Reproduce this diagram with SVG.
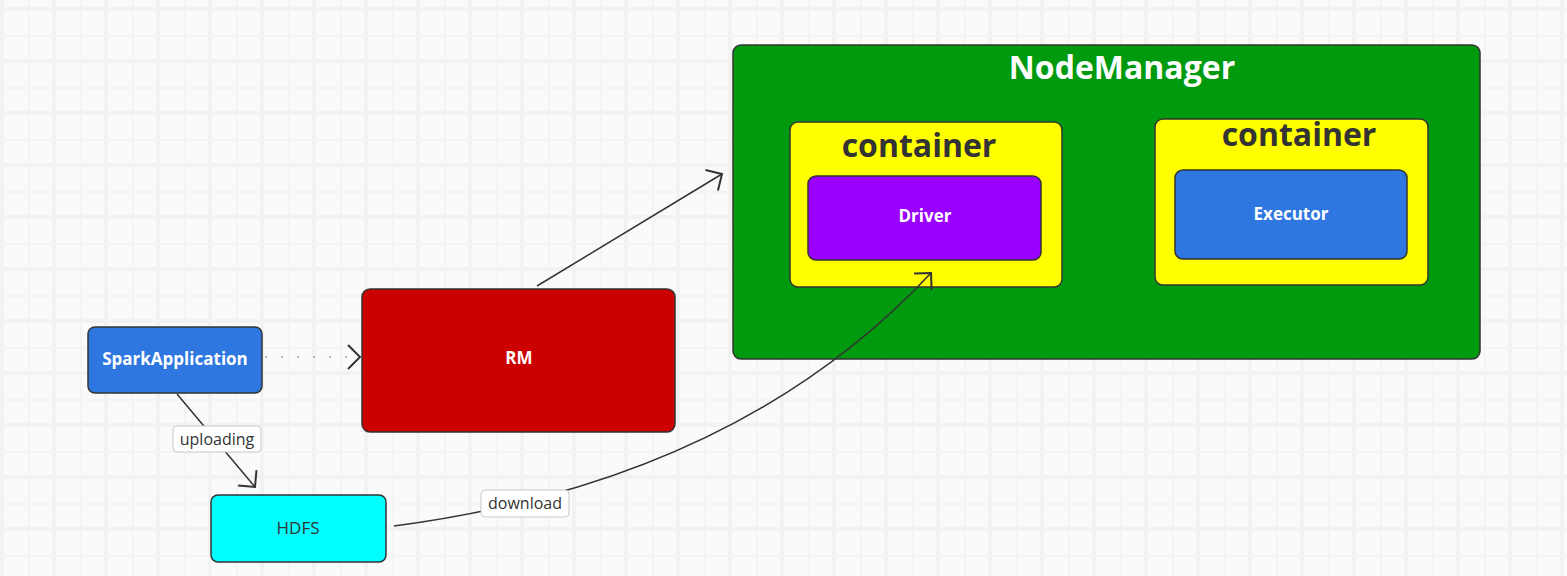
<svg xmlns="http://www.w3.org/2000/svg" width="1567" height="576" viewBox="0 0 1567 576">
<style>
.node{stroke:#333;stroke-width:1.5}
.t{font-family:"Open Sans","Noto Sans",sans-serif;text-anchor:middle}
.wb{fill:#fff;font-weight:bold;font-size:17px}
.big{font-weight:bold;font-size:32px}
.conn{fill:none;stroke:#333;stroke-width:1.5}
.lbl{fill:#fff;stroke:#c8c8c8;stroke-width:1}
.lt{fill:#333;font-size:16px}
</style>
<defs>
<pattern id="grid" patternUnits="userSpaceOnUse" x="0" y="7" width="52" height="52">
<rect width="52" height="52" fill="#fafafa"/>
<rect x="0" y="0" width="4" height="52" fill="#f2f2f2"/>
<rect x="0" y="0" width="52" height="4" fill="#f2f2f2"/>
<rect x="28" y="0" width="2" height="52" fill="#f4f4f4"/>
<rect x="0" y="28" width="52" height="2" fill="#f4f4f4"/>
</pattern>
<marker id="arr" markerUnits="userSpaceOnUse" markerWidth="16" markerHeight="26" refX="12" refY="12" orient="auto" overflow="visible">
<path d="M0,0 L12,12 L0,24" fill="none" stroke="#333" stroke-width="2"/>
</marker>
</defs>
<rect width="1567" height="576" fill="url(#grid)"/>

<g id="node-nodemanager">
<rect class="node" x="733" y="45" width="747" height="314" rx="8" fill="#009a0e"/>
<text class="t big" x="1122" y="79" fill="#fff">NodeManager</text>
</g>
<g id="node-container1">
<rect class="node" x="790" y="122" width="272" height="165" rx="8" fill="#ffff00"/>
<text class="t big" x="919" y="157" fill="#333">container</text>
</g>
<g id="node-driver">
<rect class="node" x="808" y="176" width="233" height="84" rx="8" fill="#9900ff"/>
<text class="t wb" x="925" y="222">Driver</text>
</g>
<g id="node-container2">
<rect class="node" x="1155" y="119" width="273" height="166" rx="8" fill="#ffff00"/>
<text class="t big" x="1299" y="146" fill="#333">container</text>
</g>
<g id="node-executor">
<rect class="node" x="1175" y="170" width="232" height="89" rx="8" fill="#2e77e1"/>
<text class="t wb" x="1291" y="220">Executor</text>
</g>
<g id="node-sparkapp">
<rect class="node" x="88" y="327" width="174" height="66" rx="7" fill="#2e77e1"/>
<text class="t wb" x="175" y="365">SparkApplication</text>
</g>
<g id="node-rm">
<rect class="node" x="362" y="289" width="313" height="143" rx="8" fill="#cc0000"/>
<text class="t wb" x="519" y="364">RM</text>
</g>
<g id="node-hdfs">
<rect class="node" x="211" y="495" width="175" height="67" rx="7" fill="#00ffff"/>
<text class="t" x="298" y="534" fill="#333" font-size="17">HDFS</text>
</g>

<g id="connectors">
<line x1="265" y1="357" x2="360" y2="357" fill="none" stroke="#bbb" stroke-width="2" stroke-dasharray="2 14" />
<path d="M348,345 L360,357 L348,369" fill="none" stroke="#333" stroke-width="2"/>
<line class="conn" x1="177" y1="394" x2="255" y2="487" marker-end="url(#arr)"/>
<line class="conn" x1="537" y1="286" x2="722" y2="174" marker-end="url(#arr)"/>
<path class="conn" d="M394,526 Q737,481 931,273" marker-end="url(#arr)"/>
<rect class="lbl" x="173" y="426" width="88" height="26" rx="4"/>
<text class="t lt" x="217" y="445">uploading</text>
<rect class="lbl" x="481" y="490" width="88" height="27" rx="4"/>
<text class="t lt" x="525" y="509">download</text>
</g>
</svg>
